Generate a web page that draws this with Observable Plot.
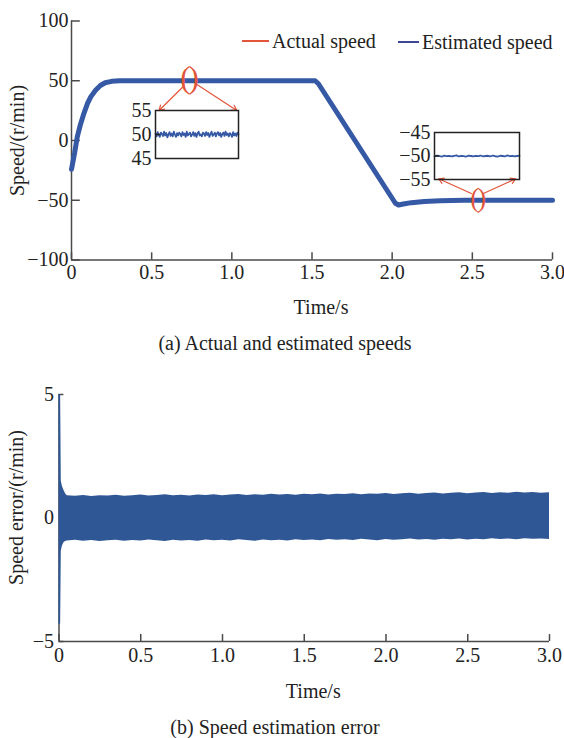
<!DOCTYPE html>
<html>
<head>
<meta charset="utf-8">
<script src="https://cdn.jsdelivr.net/npm/d3@7"></script>
<script src="https://cdn.jsdelivr.net/npm/@observablehq/plot@0.6"></script>
<style>
  body { margin: 0; background: #fff; }
  #fig { position: relative; width: 564px; height: 738px; font-family: "Liberation Serif", "Times New Roman", serif; color: #222; overflow: hidden; }
  .panel { position: absolute; left: 0; }
  .inset { position: absolute; }
  .caption { position: absolute; left: 0; width: 564px; text-align: center; font-size: 20px; line-height: 24px; white-space: nowrap; }
  .key { position: absolute; font-size: 20px; line-height: 24px; white-space: nowrap; }
  .swatch { position: absolute; height: 0; }
</style>
</head>
<body>
<div id="fig"></div>
<script>
// ---- Panel (a): speed response ----
const speedTime      = [0, 0.02, 0.036, 0.055, 0.077, 0.10, 0.12, 0.15, 0.18, 0.21, 0.25, 0.30, 1.52, 1.54, 2.02, 2.04, 2.07, 2.12, 2.20, 2.30, 2.45, 3.0];
const actualSpeed    = [-24, -10, 3, 13, 22.5, 31, 36.5, 42, 46, 48.3, 49.5, 50, 50, 47.5, -52.5, -54, -53.2, -52, -51, -50.4, -50, -50];
const estimatedSpeed = [-24, -10, 3, 13, 22.5, 31, 36.5, 42, 46, 48.3, 49.5, 50, 50, 47.5, -52.5, -54, -53.2, -52, -51, -50.4, -50, -50];
const speedTicks = [-100, -50, 0, 50, 100];
const timeTicks = [0, 0.5, 1.0, 1.5, 2.0, 2.5, 3.0];

// zoom callouts: ellipse centres (time, speed) and arrows to the inset boxes
const calloutTime  = [0.73, 2.53];
const calloutSpeed = [51.9, -48.1];
const calloutSize  = [31, 27];
const arrowFrom = [[0.702, 45.8], [0.775, 47.5], [2.494, -44.4], [2.569, -44.4]];
const arrowTo   = [[0.546, 25.1], [1.031, 25.1], [2.29, -32.0], [2.77, -32.0]];

// inset samples around +50 and -50 r/min
const insetHigh = [50.2, 49.6, 50.5, 49.9, 49.5, 50.4, 50.1, 49.7, 50.6, 49.8, 50.3, 49.4, 50.0, 50.5, 49.7, 50.2,
                   49.6, 50.6, 50.0, 49.5, 50.3, 49.8, 50.4, 50.1, 49.6, 50.5, 49.9, 50.2, 49.5, 50.6, 49.8, 50.1,
                   50.4, 49.6, 50.0, 50.5, 49.7, 50.3, 49.5, 50.2, 50.6, 49.8, 50.0, 49.6, 50.4, 50.2, 49.7, 50.5,
                   49.9, 50.3, 49.5, 50.1, 50.6, 49.7, 50.0, 50.4, 49.6, 50.2, 50.5, 49.8, 50.3, 49.5, 50.1, 50.4,
                   49.7, 50.6, 49.9, 50.2, 49.6, 50.3, 50.0, 49.5, 50.5, 49.8, 50.2, 49.7, 50.4, 50.0];
const insetLow  = [-50.1, -49.9, -50.0, -50.15, -49.9, -50.05, -49.95, -50.1, -50.0, -49.85, -50.1, -49.95,
                   -50.05, -50.15, -49.9, -50.0, -50.1, -49.95, -50.05, -49.9, -50.1, -50.0, -49.95, -50.1,
                   -49.9, -50.05, -50.12, -49.95, -50.0, -50.1, -49.88, -50.05, -49.95, -50.1, -50.0, -49.92];

// ---- Panel (b): speed estimation error envelope ----
const errorTime = [0, 0.01, 0.014, 0.02, 0.03, 0.04,
  0.05, 0.10, 0.15, 0.20, 0.25, 0.30, 0.35, 0.40, 0.45, 0.50,
  0.55, 0.60, 0.65, 0.70, 0.75, 0.80, 0.85, 0.90, 0.95, 1.00,
  1.05, 1.10, 1.15, 1.20, 1.25, 1.30, 1.35, 1.40, 1.45, 1.50,
  1.55, 1.60, 1.65, 1.70, 1.75, 1.80, 1.85, 1.90, 1.95, 2.00,
  2.05, 2.10, 2.15, 2.20, 2.25, 2.30, 2.35, 2.40, 2.45, 2.50,
  2.55, 2.60, 2.65, 2.70, 2.75, 2.80, 2.85, 2.90, 2.95, 3.00];
const errorUpper = [5.0, 5.0, 1.5, 1.3, 1.12, 0.98,
  0.90, 0.88, 0.91, 0.87, 0.90, 0.89, 0.92, 0.88, 0.90, 0.93,
  0.89, 0.91, 0.94, 0.90, 0.92, 0.89, 0.93, 0.91, 0.94, 0.90,
  0.93, 0.95, 0.91, 0.94, 0.92, 0.96, 0.93, 0.95, 0.92, 0.96,
  0.94, 0.97, 0.93, 0.96, 0.95, 0.98, 0.94, 0.97, 0.96, 0.99,
  0.95, 0.98, 1.00, 0.96, 0.99, 1.01, 0.97, 1.00, 1.02, 0.98,
  1.01, 1.03, 0.99, 1.02, 1.00, 1.04, 1.01, 1.03, 1.00, 1.02];
const errorLower = [-4.3, -4.3, -1.35, -1.15, -1.0, -0.95,
  -0.93, -0.90, -0.94, -0.91, -0.95, -0.92, -0.90, -0.94, -0.91, -0.93,
  -0.89, -0.92, -0.95, -0.90, -0.93, -0.91, -0.94, -0.89, -0.92, -0.90,
  -0.93, -0.88, -0.91, -0.94, -0.89, -0.92, -0.90, -0.93, -0.88, -0.91,
  -0.89, -0.92, -0.87, -0.90, -0.88, -0.91, -0.86, -0.89, -0.92, -0.87,
  -0.90, -0.88, -0.85, -0.89, -0.87, -0.90, -0.86, -0.88, -0.85, -0.89,
  -0.86, -0.88, -0.84, -0.87, -0.85, -0.88, -0.84, -0.86, -0.85, -0.87];
const errorTicks = [-5, 0, 5];

// ---- styling ----
const serif = "Liberation Serif, Times New Roman, serif";
const axisColor = "#4a4a4a";
const blue = "#3559a5";
const red = "#e2553a";
const fmtTime = d => d === 0 ? "0" : d.toFixed(1);
const baseStyle = {fontFamily: serif, fontSize: "20px", background: "transparent", color: "#222", overflow: "visible"};

const fig = document.getElementById("fig");
function place(node, cls, left, top) {
  const wrap = document.createElement("div");
  wrap.className = cls;
  wrap.style.left = left + "px";
  wrap.style.top = top + "px";
  wrap.appendChild(node);
  fig.appendChild(wrap);
  return wrap;
}

const speedRows = speedTime.map((t, i) => ({t, actual: actualSpeed[i], est: estimatedSpeed[i]}));
const callouts = calloutTime.map((t, i) => ({t, s: calloutSpeed[i], size: calloutSize[i]}));
const arrows = arrowFrom.map((f, i) => ({x1: f[0], y1: f[1], x2: arrowTo[i][0], y2: arrowTo[i][1]}));

const speedChart = Plot.plot({
  width: 564, height: 330,
  marginLeft: 71, marginRight: 12, marginTop: 20.5, marginBottom: 70.5,
  style: baseStyle,
  x: {domain: [0, 3], ticks: timeTicks, tickFormat: fmtTime, tickSize: 0, tickPadding: 5, label: null},
  y: {domain: [-100, 100], ticks: speedTicks, tickSize: 0, tickPadding: 3, label: null},
  marks: [
    Plot.ruleX([0], {stroke: axisColor, strokeWidth: 1.5}),
    Plot.ruleY([-100], {stroke: axisColor, strokeWidth: 1.5}),
    Plot.ruleY(speedTicks, {y: d => d, x1: 0, x2: 0.055, stroke: axisColor, strokeWidth: 1.5}),
    Plot.ruleX(timeTicks, {x: d => d, y1: -100, y2: -94, stroke: axisColor, strokeWidth: 1.5}),
    Plot.line(speedRows, {x: "t", y: "actual", stroke: red, strokeWidth: 2}),
    Plot.line(speedRows, {x: "t", y: "est", stroke: blue, strokeWidth: 5, strokeLinejoin: "round"}),
    Plot.arrow(arrows, {x1: "x1", y1: "y1", x2: "x2", y2: "y2", stroke: red, strokeWidth: 1.2, headLength: 7}),
    // the callout ellipse is drawn as a tightly spaced pair of parentheses
    Plot.text(callouts, {x: "t", y: "s", text: () => "()", fontSize: d => d.size, fill: red, fontFamily: serif}),
    Plot.text(["Speed/(r/min)"], {text: d => d, frameAnchor: "left", dx: -54, rotate: -90, textAnchor: "middle", fill: "#222"}),
    Plot.text(["Time/s"], {text: d => d, frameAnchor: "bottom", dy: 53.5, dx: 9, fill: "#222"})
  ]
});
d3.select(speedChart).selectAll("text").filter(function() { return this.textContent === "()"; })
  .attr("letter-spacing", "-2px");
place(speedChart, "panel", 0, 0);

// inset boxes
function inset(values, domain, ticks, marginLeft, boxW, boxH) {
  return Plot.plot({
    width: marginLeft + boxW + 2, height: 12 + boxH + 12,
    marginLeft, marginRight: 2, marginTop: 12, marginBottom: 12,
    style: baseStyle,
    x: {domain: [0, values.length - 1], axis: null},
    y: {domain, ticks, tickSize: 0, tickPadding: 4, label: null},
    marks: [
      Plot.line(values, {x: (d, i) => i, y: d => d, stroke: blue, strokeWidth: 1.8}),
      Plot.ruleY([ticks[1]], {x1: 0, x2: (values.length - 1) * 0.06, stroke: "#222", strokeWidth: 1.5}),
      Plot.frame({stroke: "#222", strokeWidth: 1.5})
    ]
  });
}
place(inset(insetHigh, [45, 55], [45, 50, 55], 31, 83, 48), "inset", 124, 98);
place(inset(insetLow, [-55, -45], [-55, -50, -45], 40, 85, 47), "inset", 394, 119.5);

// legend
function key(label, color, x1, x2, y) {
  const sw = document.createElement("div");
  sw.className = "swatch";
  sw.style.left = x1 + "px";
  sw.style.top = (y - 1) + "px";
  sw.style.width = (x2 - x1) + "px";
  sw.style.borderTop = `2px solid ${color}`;
  fig.appendChild(sw);
  const t = document.createElement("div");
  t.className = "key";
  t.style.left = (x2 + 3) + "px";
  t.style.top = (y - 12) + "px";
  t.textContent = label;
  fig.appendChild(t);
}
key("Actual speed", red, 242, 269, 41);
key("Estimated speed", "#3b4696", 398, 419, 41.5);

const capA = document.createElement("div");
capA.className = "caption";
capA.style.top = "331px";
capA.style.paddingLeft = "3px";
capA.textContent = "(a) Actual and estimated speeds";
fig.appendChild(capA);

// ---- panel (b) ----
const errorRows = errorTime.map((t, i) => ({t, lo: errorLower[i], hi: errorUpper[i]}));
const errorChart = Plot.plot({
  width: 564, height: 356,
  marginLeft: 58.5, marginRight: 15, marginTop: 38, marginBottom: 71,
  style: baseStyle,
  x: {domain: [0, 3], ticks: timeTicks, tickFormat: fmtTime, tickSize: 0, tickPadding: 6, label: null},
  y: {domain: [-5, 5], ticks: errorTicks, tickSize: 0, tickPadding: 5, label: null},
  marks: [
    Plot.ruleX([0], {stroke: axisColor, strokeWidth: 1.5}),
    Plot.ruleY([-5], {stroke: axisColor, strokeWidth: 1.5}),
    Plot.ruleY(errorTicks, {y: d => d, x1: 0, x2: 0.03, stroke: axisColor, strokeWidth: 1.5}),
    Plot.ruleX(timeTicks, {x: d => d, y1: -5, y2: -4.72, stroke: axisColor, strokeWidth: 1.5}),
    Plot.areaY(errorRows, {x: "t", y1: "lo", y2: "hi", fill: "#2f5796"}),
    Plot.text(["Speed error/(r/min)"], {text: d => d, frameAnchor: "left", dx: -42, dy: -10.5, rotate: -90, textAnchor: "middle", fill: "#222"}),
    Plot.text(["Time/s"], {text: d => d, frameAnchor: "bottom", dy: 56, dx: 9, fill: "#222"})
  ]
});
place(errorChart, "panel", 0, 356);

const capB = document.createElement("div");
capB.className = "caption";
capB.style.top = "715px";
capB.style.paddingRight = "14px";
capB.style.width = "550px";
capB.textContent = "(b) Speed estimation error";
fig.appendChild(capB);
</script>
</body>
</html>
